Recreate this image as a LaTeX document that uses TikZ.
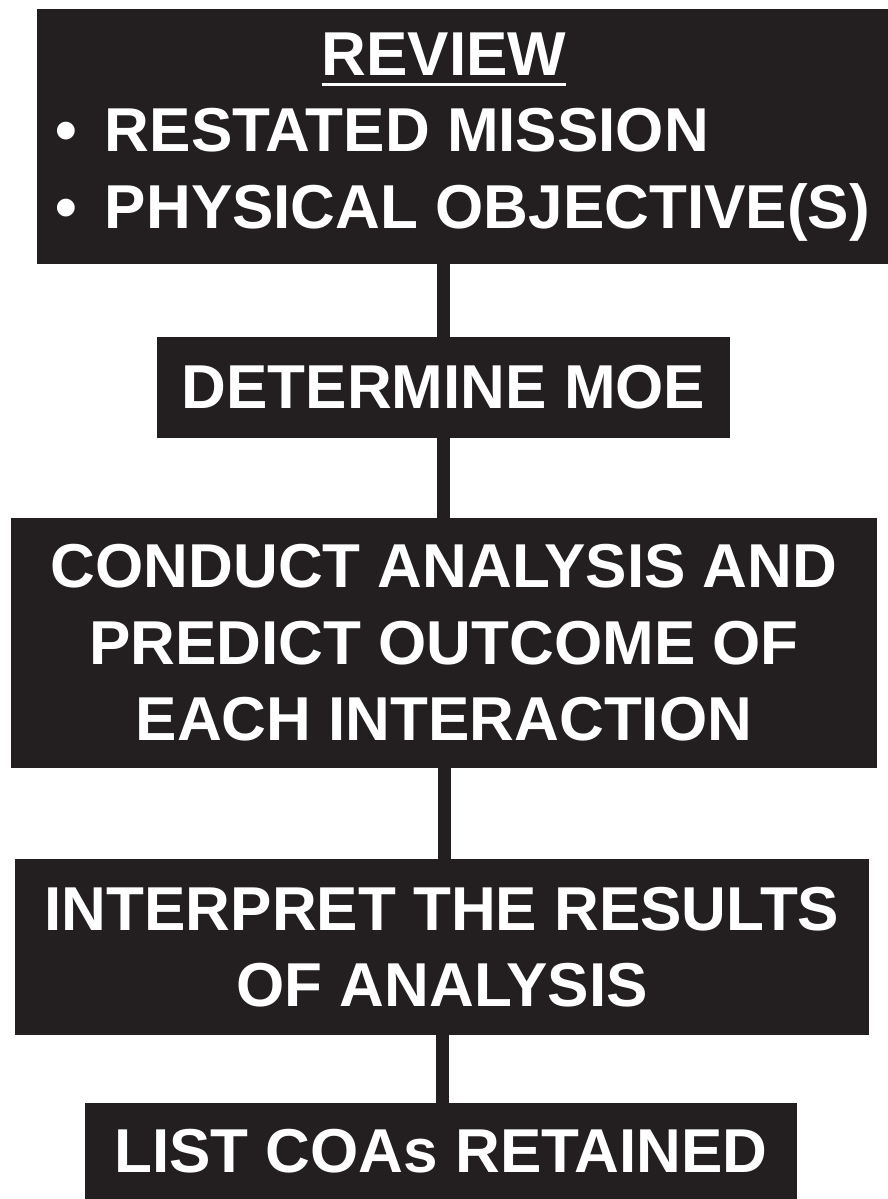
\documentclass[tikz,border=0pt]{standalone}
\usepackage{fontspec}
\setmainfont{Liberation Sans}
\definecolor{PrintBlack}{RGB}{35,31,32}
\newcommand{\ulhead}[1]{\setbox0\hbox{#1}\rlap{\rule[-11pt]{\wd0}{3pt}}\box0}
\tikzset{
  stage/.style={fill=PrintBlack,text=white,inner sep=0pt,align=center,
    font=\fontsize{62}{76.5}\selectfont\bfseries},
  link/.style={draw=PrintBlack,line width=13pt}
}
\begin{document}
\begin{tikzpicture}[x=1pt,y=-1pt]
  \useasboundingbox (0,0) rectangle (888,1199);
  % steps, top to bottom
  \node[stage,minimum width=851,minimum height=255] (review) at (462.5,136.5)
    {\begin{tabular}{@{}l@{}}
      \multicolumn{1}{@{}c@{}}{\ulhead{REVIEW}\hspace*{37pt}}\\
      \textbullet\hspace{28pt}RESTATED MISSION\\
      \textbullet\hspace{28pt}PHYSICAL OBJECTIVE(S)
    \end{tabular}};
  \node[stage,minimum width=573,minimum height=101] (moe) at (443.5,387.5)
    {DETERMINE MOE};
  \node[stage,minimum width=866,minimum height=250] (analysis) at (444,643)
    {CONDUCT ANALYSIS AND\\PREDICT OUTCOME OF\\EACH INTERACTION};
  \node[stage,minimum width=854,minimum height=176] (interpret) at (442,947)
    {INTERPRET THE RESULTS\\OF ANALYSIS};
  \node[stage,minimum width=712,minimum height=96] (retain) at (441,1151)
    {LIST COAs RETAINED};
  % connectors
  \draw[link] (review.south -| moe.north) -- (moe.north);
  \draw[link] (moe.south) -- (moe.south |- analysis.north);
  \draw[link] (analysis.south) -- (analysis.south |- interpret.north);
  \draw[link] (interpret.south) -- (interpret.south |- retain.north);
\end{tikzpicture}
\end{document}
